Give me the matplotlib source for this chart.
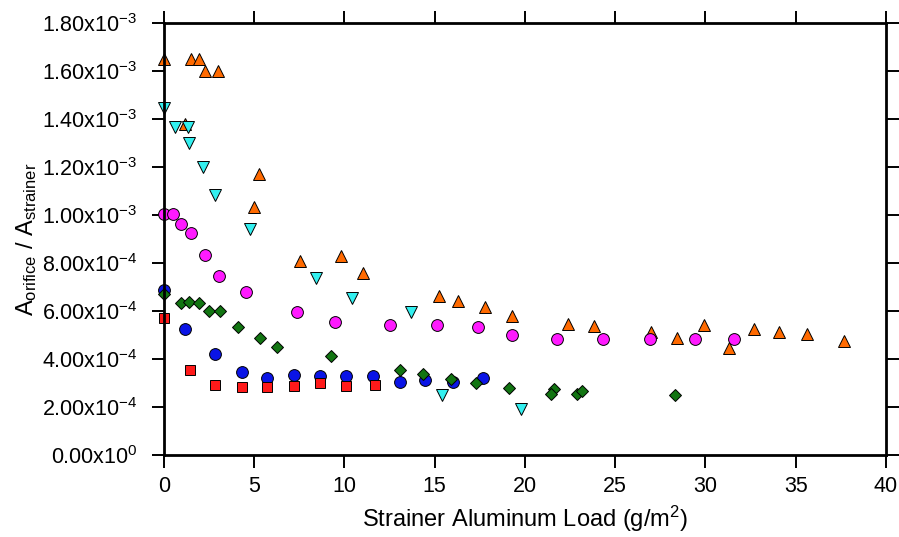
import matplotlib.pyplot as plt
from matplotlib.ticker import FixedLocator, FuncFormatter

plt.rcParams['font.family'] = ['Liberation Sans', 'DejaVu Sans']
plt.rcParams['mathtext.fontset'] = 'custom'
plt.rcParams['mathtext.rm'] = 'Liberation Sans'
plt.rcParams['mathtext.it'] = 'Liberation Sans:italic'

# orange triangles
x_orange = [0, 1.17, 1.5, 1.94, 2.28, 3.0, 5.0, 5.28, 7.56, 9.83, 11.0, 15.24, 16.3,
            17.8, 19.3, 22.4, 23.85, 27.0, 28.4, 29.9, 31.3, 32.7, 34.1, 35.6, 37.7]
y_orange = [16.5, 13.8, 16.5, 16.5, 16.0, 16.0, 10.34, 11.7, 8.07, 8.27, 7.57, 6.6, 6.4,
            6.16, 5.79, 5.47, 5.37, 5.12, 4.87, 5.43, 4.46, 5.23, 5.12, 5.03, 4.75]

# cyan down triangles
x_cyan = [0, 0.61, 1.31, 1.41, 2.15, 2.8, 4.74, 8.44, 10.4, 13.7, 15.4, 19.76]
y_cyan = [14.45, 13.67, 13.67, 13.0, 11.98, 10.83, 9.4, 7.38, 6.55, 5.95, 2.49, 1.91]

# magenta circles
x_magenta = [0, 0.48, 0.96, 1.52, 2.3, 3.07, 4.56, 7.37, 9.5, 12.5, 15.1, 17.4, 19.3,
             21.8, 24.3, 26.9, 29.4, 31.6]
y_magenta = [10.04, 10.04, 9.63, 9.25, 8.32, 7.44, 6.78, 5.97, 5.55, 5.40, 5.40, 5.33,
             5.01, 4.85, 4.81, 4.81, 4.81, 4.81]

# blue circles
x_blue = [0, 1.18, 2.8, 4.33, 5.7, 7.22, 8.63, 10.1, 11.56, 13.06, 14.46, 16.0, 17.7]
y_blue = [6.88, 5.25, 4.20, 3.45, 3.2, 3.32, 3.28, 3.28, 3.28, 3.05, 3.12, 3.05, 3.21]

# red squares
x_red = [0, 1.43, 2.8, 4.33, 5.7, 7.22, 8.63, 10.1, 11.7]
y_red = [5.70, 3.56, 2.91, 2.83, 2.85, 2.88, 2.98, 2.88, 2.91]

# green diamonds
x_green = [0, 0.94, 1.4, 1.94, 2.48, 3.1, 4.09, 5.3, 6.26, 9.28, 13.07, 14.37, 15.9,
           17.3, 19.1, 21.6, 21.46, 22.9, 23.15, 28.3]
y_green = [6.70, 6.33, 6.37, 6.33, 6.0, 6.0, 5.33, 4.86, 4.5, 4.14, 3.52, 3.37, 3.16,
           2.99, 2.81, 2.76, 2.53, 2.56, 2.67, 2.48]

y_ticks = [0, 2e-4, 4e-4, 6e-4, 8e-4, 1e-3, 1.2e-3, 1.4e-3, 1.6e-3, 1.8e-3]


def sci(v, pos=None):
    if v == 0:
        return r'$\mathregular{0.00x10^{0}}$'
    e = 0
    m = v
    while m < 1 - 1e-9:
        m *= 10
        e -= 1
    return r'$\mathregular{%.2fx10^{%d}}$' % (m, e)


fig = plt.figure(figsize=(8.99, 5.37), dpi=100)
ax = fig.add_axes([0.1824, 0.1527, 0.8031, 0.805])

series = [
    (x_orange, y_orange, '^', '#FF6A00', 8.5),
    (x_cyan, y_cyan, 'v', '#33F0F0', 8.5),
    (x_magenta, y_magenta, 'o', '#FF1AFF', 8.5),
    (x_blue, y_blue, 'o', '#0A14E6', 8.5),
    (x_red, y_red, 's', '#FF1A1A', 7.5),
    (x_green, y_green, 'D', '#127512', 6.3),
]
for xs, ys, m, c, ms in series:
    ax.plot(xs, [v * 1e-4 for v in ys], linestyle='none', marker=m, ms=ms,
            mfc=c, mec='black', mew=0.7, clip_on=False)

ax.set_xlim(0, 40)
ax.set_ylim(0, 1.8e-3)
ax.xaxis.set_major_locator(FixedLocator(range(0, 41, 5)))
ax.yaxis.set_major_locator(FixedLocator(y_ticks))
ax.yaxis.set_major_formatter(FuncFormatter(sci))

for s in ax.spines.values():
    s.set_linewidth(2.0)
ax.tick_params(direction='out', length=9, width=1.4, labelsize=15.5,
               top=True, right=True, labeltop=False, labelright=False)
ax.tick_params(axis='x', pad=6)
ax.tick_params(axis='y', pad=10)

ax.set_xlabel(r'Strainer Aluminum Load (g/m$\mathregular{^2}$)', fontsize=17, labelpad=5)
ax.set_ylabel(r'$\mathregular{A_{orifice}\ /\ A_{strainer}}$', fontsize=17, labelpad=2)

fig.savefig('out.png', dpi=100)
